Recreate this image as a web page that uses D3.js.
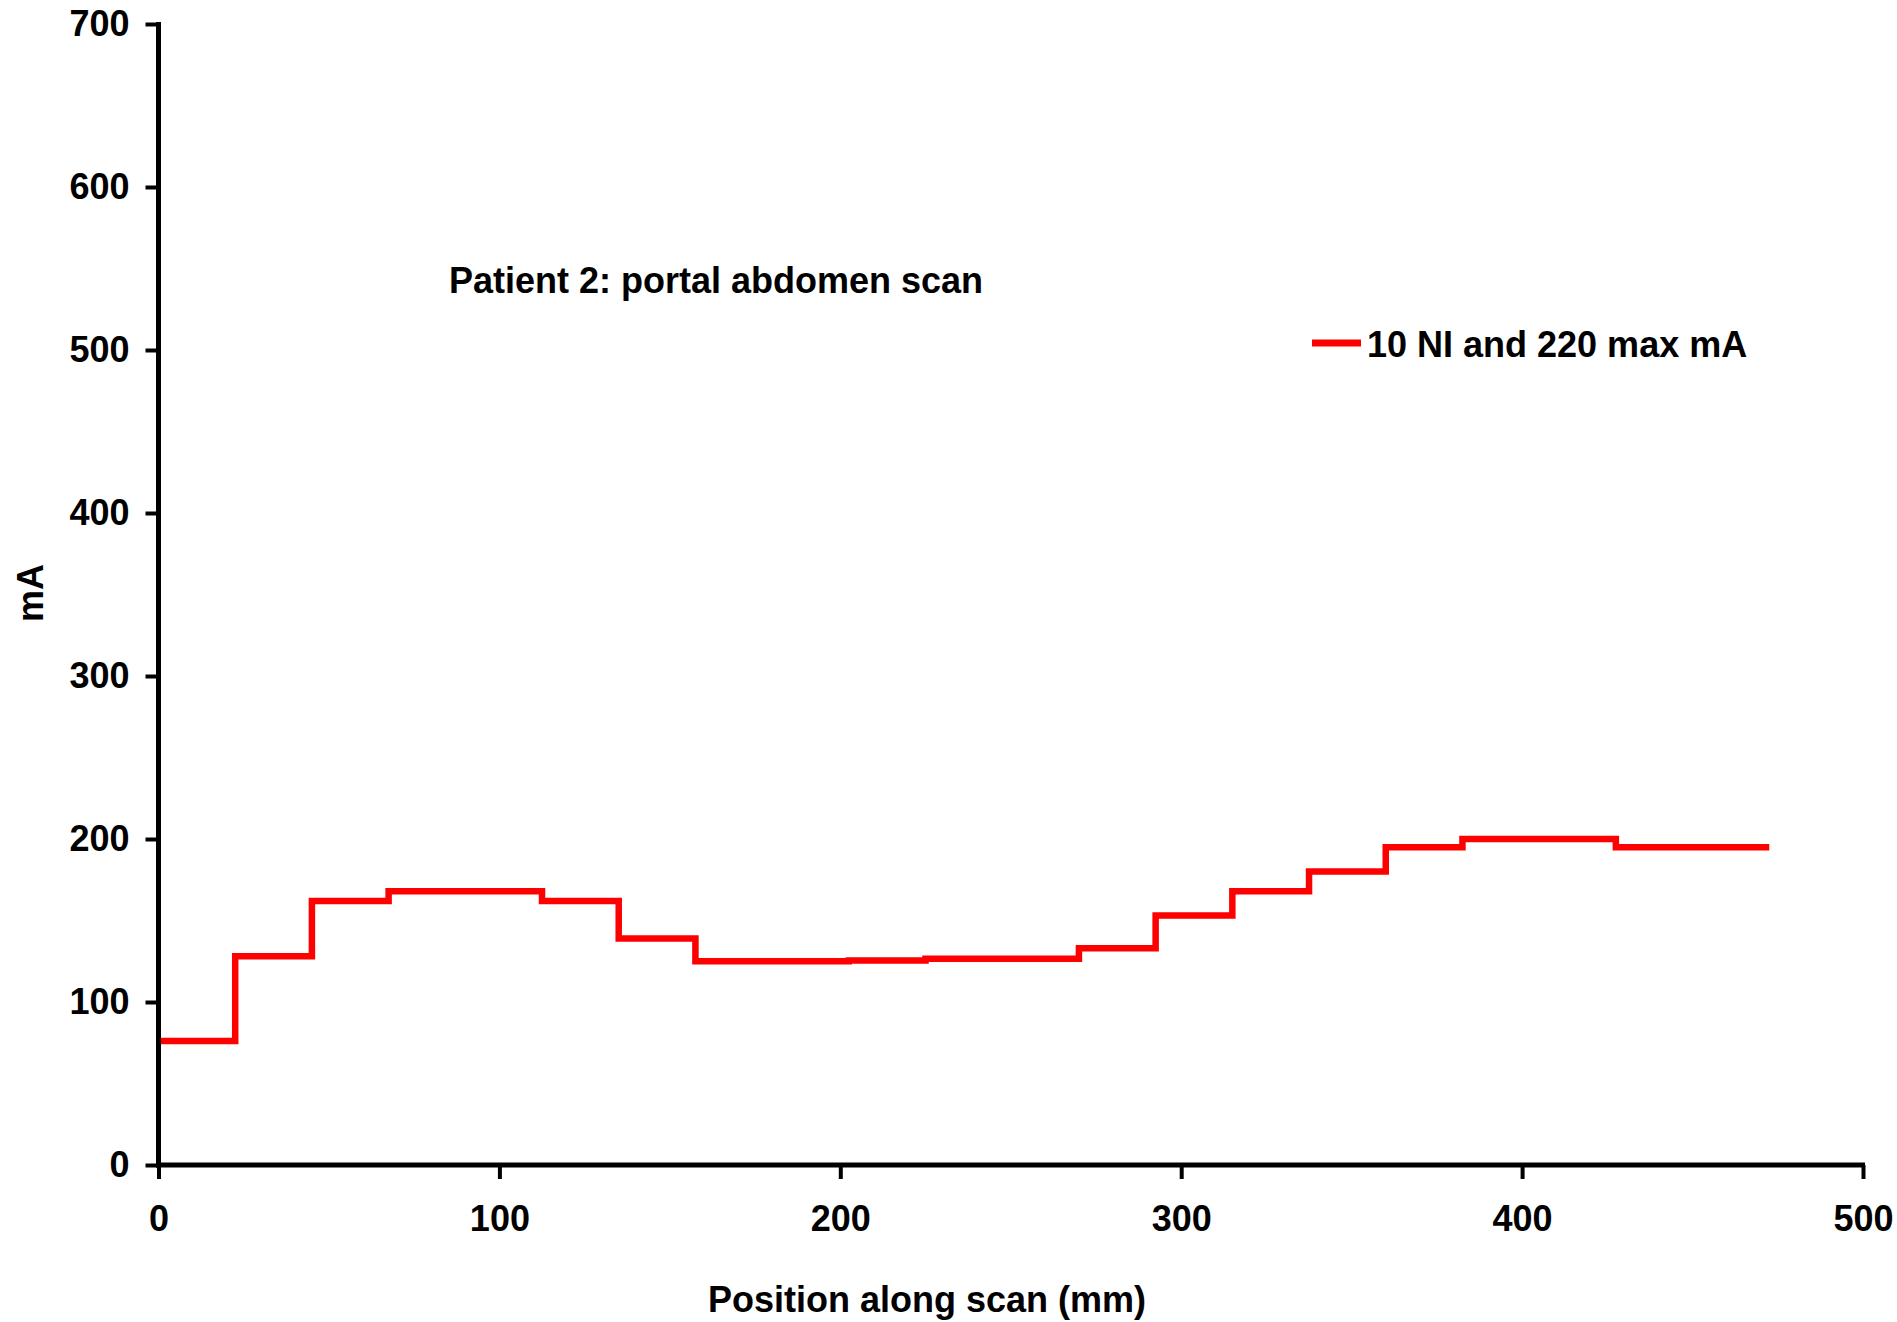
<!DOCTYPE html>
<html>
<head>
<meta charset="utf-8">
<script src="https://cdn.jsdelivr.net/npm/d3@7"></script>
<style>
  body { margin: 0; background: #fff; }
  text { font-family: "Liberation Sans", Arial, sans-serif; font-weight: bold; font-size: 36px; fill: #000; }
</style>
</head>
<body>
<div id="chart"></div>
<script>
// step positions along scan (mm) and tube current (mA)
var positions = [0, 22.5, 45, 67.5, 90, 112.5, 135, 157.5, 180, 202.5, 225,
                 247.5, 270, 292.5, 315, 337.5, 360, 382.5, 405, 427.5, 450, 472.5];
var currentMA = [76, 128, 162, 168, 168, 162, 139, 125, 125, 125.5, 126.5,
                 126.5, 133, 153, 168, 180, 195, 200, 200, 195, 195, 195];
var xTicks = [0, 100, 200, 300, 400, 500];
var yTicks = [0, 100, 200, 300, 400, 500, 600, 700];
var seriesName = "10 NI and 220 max mA";
var chartTitle = "Patient 2: portal abdomen scan";

function drawChart() {
  var width = 1897,
      height = 1322,
      left = 158.5, right = 1863,
      top = 24, bottom = 1165;

  var svg = d3.select("#chart")
    .append("svg")
      .attr("width", width)
      .attr("height", height);

  svg.append("rect")
    .attr("width", width)
    .attr("height", height)
    .attr("fill", "#fff");

  var x = d3.scaleLinear().domain([0, 500]).range([left, right]);
  var y = d3.scaleLinear().domain([0, 700]).range([bottom, top]);

  var data = positions.map(function(p, i) { return {pos: p, ma: currentMA[i]}; });

  var line = d3.line()
      .x(function(d) { return x(d.pos); })
      .y(function(d) { return y(d.ma); })
      .curve(d3.curveStepAfter);

  svg.append("path")
    .datum(data)
    .attr("d", line)
    .attr("fill", "none")
    .attr("stroke", "#ff0000")
    .attr("stroke-width", 6.5);

  // axes
  var xAxis = svg.append("g")
    .attr("transform", "translate(0," + bottom + ")")
    .call(d3.axisBottom(x).tickValues(xTicks).tickSize(14).tickPadding(26).tickFormat(d3.format("d")));

  var yAxis = svg.append("g")
    .attr("transform", "translate(" + left + ",0)")
    .call(d3.axisLeft(y).tickValues(yTicks).tickSize(13).tickPadding(16).tickFormat(d3.format("d")));

  [xAxis, yAxis].forEach(function(g) {
    g.attr("font-size", null).attr("font-family", null);
    g.select(".domain").attr("stroke", "#000").attr("stroke-width", 5);
    g.selectAll(".tick line").attr("stroke", "#000").attr("stroke-width", 4);
  });
  xAxis.select(".domain").attr("d", "M" + (left - 2.5) + ",0H" + (right + 2));
  yAxis.select(".domain").attr("d", "M0," + (top - 2) + "V" + (bottom + 2.5));
  xAxis.selectAll(".tick text").attr("dy", null).attr("y", 66);

  // axis titles
  svg.append("text")
    .attr("x", 927)
    .attr("y", 1312)
    .attr("text-anchor", "middle")
    .text("Position along scan (mm)");

  svg.append("text")
    .attr("transform", "translate(43," + 593 + ") rotate(-90)")
    .attr("text-anchor", "middle")
    .text("mA");

  // title inside the plot
  svg.append("text")
    .attr("x", 449)
    .attr("y", 293)
    .text(chartTitle);

  // legend
  svg.append("line")
    .attr("x1", 1312).attr("x2", 1361)
    .attr("y1", 343).attr("y2", 343)
    .attr("stroke", "#ff0000")
    .attr("stroke-width", 7);

  svg.append("text")
    .attr("x", 1367)
    .attr("y", 357)
    .text(seriesName);
}

drawChart();
</script>
</body>
</html>
